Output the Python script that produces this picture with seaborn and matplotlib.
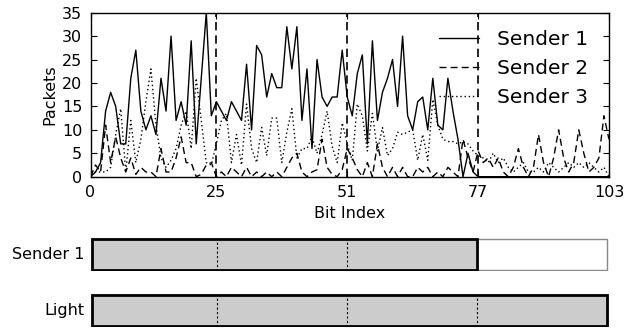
import numpy as np
import pandas as pd
import matplotlib
matplotlib.use("Agg")
from matplotlib import pyplot as plt
import seaborn as sns

# packets received per bit
bits = list(range(104))

sender1 = [0, 1, 3, 14, 18, 15, 7, 7, 21, 27, 14, 10, 13, 9, 21, 14, 30, 12, 16, 11,
           29, 7, 21, 35, 13, 16, 14, 12, 16, 14, 12, 24, 10, 28, 26, 17, 22, 19, 19, 32,
           23, 32, 12, 23, 6, 25, 17, 15, 17, 17, 27, 17, 13, 22, 26, 7, 29, 12, 18, 21,
           25, 15, 30, 13, 10, 16, 17, 10, 21, 11, 10, 21, 14, 8, 0, 5, 1, 0, 0, 0,
           0, 0, 0, 0, 0, 0, 0, 0, 0, 0, 0, 0, 0, 0, 0, 0, 0, 0, 0, 0,
           0, 0, 0, 0]

sender2 = [0, 2.5, 1, 11, 3, 8.5, 4, 1, 4, 0.5, 2, 1, 1, 0, 6, 1, 1, 4, 8.5, 3,
           3, 0, 0.5, 2.5, 3, 0, 1, 0, 2, 1, 0, 2, 0, 1, 0, 1, 0, 1, 0, 2,
           4, 5, 1, 0, 1, 1.5, 8, 2, 0.5, 0, 1.5, 6, 4, 1.5, 0, 3, 0, 7, 2, 0,
           2, 0, 2, 0, 0, 2, 1, 2, 0, 1, 0, 2, 1, 0, 8, 4, 1, 5.5, 3, 4,
           2, 4, 1, 0, 2, 6, 2, 0, 2, 9, 3, 0, 4, 10, 4, 1, 3, 10, 5, 1,
           2, 4, 13, 8]

sender3 = [1, 1, 1, 1, 2, 9, 14.5, 1, 12, 3, 8, 16, 23, 11, 4, 2, 3.5, 6, 11, 14,
           6, 21, 12, 3, 2.5, 7, 12, 13.5, 3, 9, 2.5, 15.5, 6, 3, 10.5, 4.5, 12.5, 12.5, 3, 9.5,
           14.5, 4, 6, 6, 8.5, 5, 9, 14, 6.5, 3, 11.5, 7, 3.5, 15.5, 13, 5.5, 13.5, 5.5, 10.5, 4.5,
           6, 9.5, 9, 9.5, 10, 3.5, 9, 3.5, 16.5, 11, 8, 7.5, 7.5, 7, 7.5, 7, 5.5, 4.5, 4, 3,
           5, 3, 4, 2, 1, 2, 3, 1, 1, 2, 1, 3, 2, 1, 2, 3, 2, 3, 2, 3,
           2, 1, 2, 0]

boundaries = [25, 51, 77]
x_ticks = [0, 25, 51, 77, 103]

# bits decoded per receiver (bottom bars)
bar_names = ["Sender 1", "Light"]
bar_decoded = [77, 103]
bar_marks = [[25, 51], [25, 51, 77]]

sns.set_style("ticks")
plt.rcParams["font.family"] = ["DejaVu Sans"]
plt.rcParams["xtick.direction"] = "in"
plt.rcParams["ytick.direction"] = "in"
for key in ["text.color", "axes.labelcolor", "xtick.color", "ytick.color", "axes.edgecolor"]:
    plt.rcParams[key] = "black"

fig = plt.figure(figsize=(6.26, 3.33), dpi=100)
ax = fig.add_axes([0.1446, 0.4694, 0.8282, 0.4925])

df = pd.DataFrame({"bit": bits, "s1": sender1, "s2": sender2, "s3": sender3})
sns.lineplot(data=df, x="bit", y="s1", color="k", lw=1.0, label="Sender 1", ax=ax)
sns.lineplot(data=df, x="bit", y="s2", color="k", lw=1.0, label="Sender 2", ax=ax)
sns.lineplot(data=df, x="bit", y="s3", color="k", lw=1.0, label="Sender 3", ax=ax)
ax.lines[1].set_dashes((5, 3))
ax.lines[2].set_dashes((1, 2))

for b in boundaries:
    ax.axvline(b, color="k", lw=1.2, dashes=(5, 3))

ax.set_xlim(0, 103)
ax.set_ylim(0, 35)
ax.set_xticks(x_ticks)
ax.set_yticks(range(0, 36, 5))
ax.tick_params(labelsize=11.5, top=True, right=True, length=4, width=0.8)
ax.tick_params(axis="x", pad=6)
ax.tick_params(axis="y", pad=6)
ax.set_xlabel("Bit Index", fontsize=11.5, labelpad=4)
ax.set_ylabel("Packets", fontsize=11.5, labelpad=3)
for s in ax.spines.values():
    s.set_linewidth(1.0)

leg = ax.legend(loc="upper right", bbox_to_anchor=(0.972, 0.93), frameon=False,
                fontsize=14.5, handlelength=2.0, handletextpad=0.9,
                labelspacing=0.5, borderaxespad=0, borderpad=0.3)
for h in leg.get_lines():
    h.set_linewidth(1.0)

# bottom bars
bar_rects = [[0.1446, 0.1862, 0.8282, 0.0991], [0.1446, 0.018, 0.8282, 0.0991]]
for name, dec, marks, rect in zip(bar_names, bar_decoded, bar_marks, bar_rects):
    bx = fig.add_axes(rect)
    bx.barh([0], [103], left=0, height=1, color="white", edgecolor="#888888", lw=1.0)
    bx.barh([0], [dec], left=0, height=1, color="#cccccc", edgecolor="k", lw=2.0)
    for m in marks:
        bx.axvline(m, color="k", lw=0.8, dashes=(2, 2))
    bx.set_xlim(-0.3, 103.3)
    bx.set_ylim(-0.52, 0.52)
    bx.axis("off")
    bx.text(-1.5, 0, name, ha="right", va="center", fontsize=11.5)

fig.savefig("out.png", dpi=100)
